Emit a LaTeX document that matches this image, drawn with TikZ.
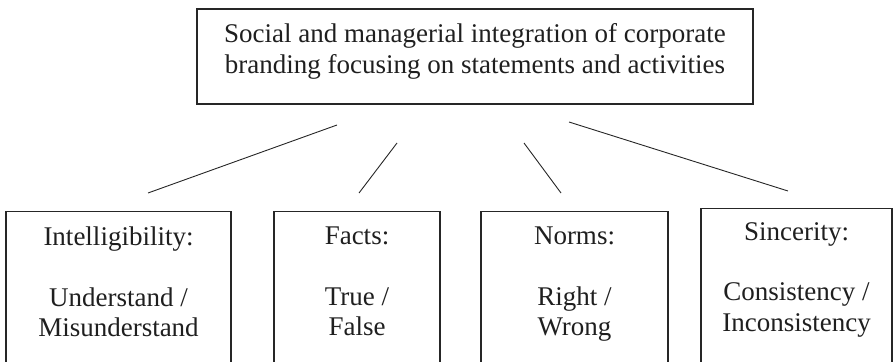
\documentclass[tikz,border=0pt]{standalone}
\usepackage{fontspec}
\setmainfont{Liberation Serif}
\begin{document}
\begin{tikzpicture}[x=1pt,y=-1pt,
  frame/.style={draw=black!85, line width=1.1pt, rectangle, inner sep=0pt},
  label/.style={inner sep=0pt, align=center, anchor=north, text=black!88,
    font=\fontsize{27}{30.5}\selectfont},
  link/.style={draw=black!85, line width=0.9pt}]
\useasboundingbox (0,0) rectangle (893,361);
% boxes
\node[frame, minimum width=556pt, minimum height=95pt] (top) at (475,56.5) {};
\node[frame, minimum width=225pt, minimum height=170pt, anchor=north] (b1) at (118.5,211) {};
\node[frame, minimum width=166pt, minimum height=170pt, anchor=north] (b2) at (357,211) {};
\node[frame, minimum width=187pt, minimum height=170pt, anchor=north] (b3) at (574.5,211) {};
\node[frame, minimum width=191pt, minimum height=173pt, anchor=north] (b4) at (796.5,208) {};
% texts
\node[label] (ttop) at ([yshift=-15pt]top.north) {Social and managerial integration of corporate\\branding focusing on statements and activities};
\node[label] (t1) at ([yshift=-16pt]b1.north) {Intelligibility:\\[30pt]Understand /\\Misunderstand};
\node[label] (t2) at ([yshift=-16pt]b2.north) {Facts:\\[30pt]True /\\False};
\node[label] (t3) at ([yshift=-16pt]b3.north) {Norms:\\[30pt]Right /\\Wrong};
\node[label] (t4) at ([yshift=-14pt]b4.north) {Sincerity:\\[30pt]Consistency /\\Inconsistency};
% connector ends
\coordinate (s1) at (337,125); \coordinate (e1) at (148,193);
\coordinate (s2) at (397,143); \coordinate (e2) at (359,193);
\coordinate (s3) at (524,143); \coordinate (e3) at (561,193);
\coordinate (s4) at (569,122); \coordinate (e4) at (788,191);
\draw[link] (s1) -- (e1);
\draw[link] (s2) -- (e2);
\draw[link] (s3) -- (e3);
\draw[link] (s4) -- (e4);
\end{tikzpicture}
\end{document}
